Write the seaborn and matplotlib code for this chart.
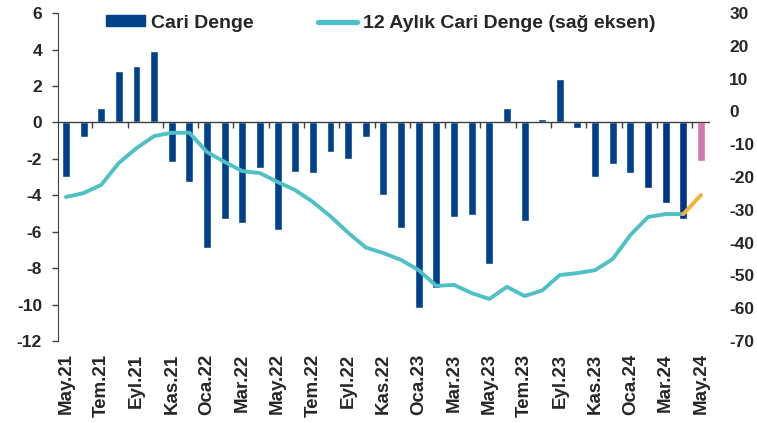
import numpy as np
import pandas as pd
import matplotlib
matplotlib.use("Agg")
import matplotlib.pyplot as plt
from matplotlib.lines import Line2D
from matplotlib.patches import Patch
import seaborn as sns

sns.set_style("white")
plt.rcParams['font.family'] = ['Liberation Sans', 'DejaVu Sans']
plt.rcParams['font.weight'] = 'bold'

# aylar (May.21 - May.24)
aylar = ["May.21", "Haz.21", "Tem.21", "Ağu.21", "Eyl.21", "Eki.21", "Kas.21", "Ara.21",
         "Oca.22", "Şub.22", "Mar.22", "Nis.22", "May.22", "Haz.22", "Tem.22", "Ağu.22",
         "Eyl.22", "Eki.22", "Kas.22", "Ara.22", "Oca.23", "Şub.23", "Mar.23", "Nis.23",
         "May.23", "Haz.23", "Tem.23", "Ağu.23", "Eyl.23", "Eki.23", "Kas.23", "Ara.23",
         "Oca.24", "Şub.24", "Mar.24", "Nis.24", "May.24"]

# aylık cari denge (milyar $)
cari_denge = [-3.0, -0.8, 0.8, 2.8, 3.1, 3.9, -2.2, -3.3,
              -6.9, -5.3, -5.5, -2.5, -5.9, -2.7, -2.8, -1.6,
              -2.0, -0.8, -4.0, -5.8, -10.2, -9.1, -5.2, -5.1,
              -7.8, 0.8, -5.4, 0.2, 2.4, -0.3, -3.0, -2.3,
              -2.8, -3.6, -4.4, -5.3, -2.1]

# 12 aylık cari denge (sağ eksen)
yillik = [-26.1, -24.9, -22.4, -15.7, -11.2, -7.5, -6.5, -6.5,
          -12.4, -15.4, -18.2, -18.8, -21.5, -24.0, -27.6, -32.0,
          -37.0, -41.5, -43.2, -45.3, -48.4, -53.2, -52.9, -55.4,
          -57.2, -53.5, -56.3, -54.6, -49.9, -49.3, -48.4, -45.0,
          -37.7, -32.2, -31.3, -31.3, -25.5]

sol_ticks = [6, 4, 2, 0, -2, -4, -6, -8, -10, -12]
sag_ticks = [30, 20, 10, 0, -10, -20, -30, -40, -50, -60, -70]

lacivert = "#00418A"
koyu = "#00338C"
pembe = "#D276AE"
turkuaz = "#4FC1C6"
turuncu = "#F8B133"

renkler = [lacivert] * 33 + [koyu] * 3 + [pembe]

df = pd.DataFrame({"ay": aylar, "cari": cari_denge, "yillik": yillik})
df["x"] = np.arange(len(df))

fig = plt.figure(figsize=(7.57, 4.23), dpi=100)
ax = fig.add_axes([0.0766, 0.194, 0.861, 0.775])

sns.barplot(data=df, x="ay", y="cari", hue="ay", palette=renkler, legend=False,
            width=0.45, saturation=1, ax=ax)
ax.set_xlim(-0.45, 36.5)
ax.set_ylim(-12, 6)
ax.set_yticks(sol_ticks)
ax.set_yticklabels([str(t) for t in sol_ticks], fontsize=12.5, fontweight='bold')
ax.set_xticks(range(0, len(aylar), 2))
ax.set_xticklabels(aylar[::2], rotation=90, fontsize=13.5, fontweight='bold')
ax.tick_params(axis='x', length=0, pad=9)
ax.tick_params(axis='y', length=4.5, width=1, color='#404040', pad=7, left=True)
ax.set_xlabel("")
ax.set_ylabel("")
for s in ["top", "right", "bottom"]:
    ax.spines[s].set_visible(False)
ax.spines["left"].set_color("#404040")
ax.axhline(0, color="#404040", lw=1, zorder=1)
ax.vlines(np.arange(1.5, len(aylar), 2), -0.3, 0, color="#404040", lw=1)

ax2 = ax.twinx()
sns.lineplot(data=df.iloc[:36], x="x", y="yillik", color=turkuaz, lw=2.8, ax=ax2)
sns.lineplot(data=df.iloc[35:], x="x", y="yillik", color=turuncu, lw=2.8, ax=ax2)
ax2.set_ylim(-70, 30)
ax2.set_yticks(sag_ticks)
ax2.set_yticklabels([str(t) for t in sag_ticks], fontsize=12.5, fontweight='bold')
ax2.tick_params(axis='y', length=0, pad=14)
ax2.set_xlabel("")
ax2.set_ylabel("")
for s in ["top", "right", "bottom", "left"]:
    ax2.spines[s].set_visible(False)
ax2.set_xlim(-0.45, 36.5)

handles = [Patch(color=lacivert), Line2D([0], [0], color=turkuaz, lw=3.8)]
fig.legend(handles, ["Cari Denge", "12 Aylık Cari Denge (sağ eksen)"],
           loc="center", bbox_to_anchor=(0.503, 0.945), ncol=2, frameon=False,
           prop={'size': 14, 'weight': 'bold'}, handlelength=2.0, handleheight=0.5,
           handletextpad=0.3, columnspacing=3.3)

fig.savefig("out.png", dpi=100)
